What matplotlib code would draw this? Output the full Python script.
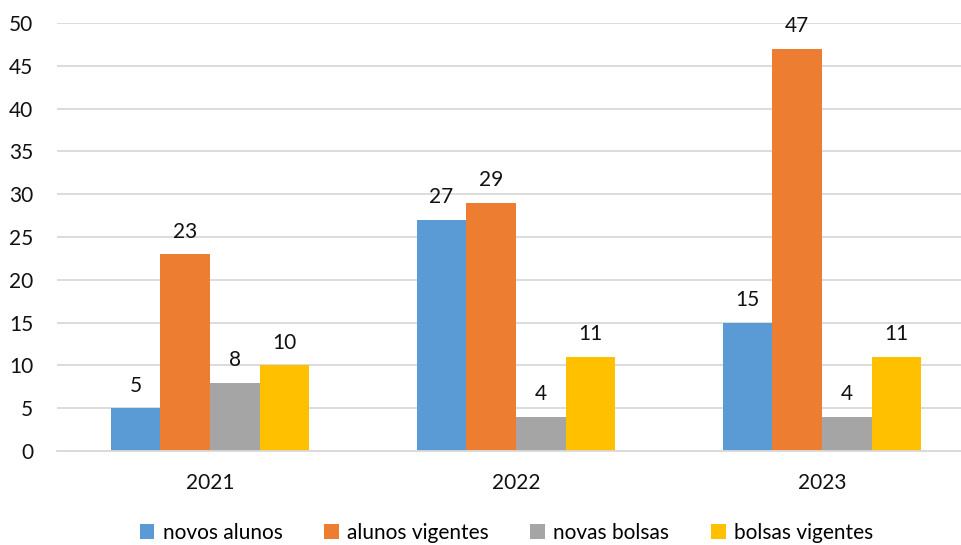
import numpy as np
import matplotlib.pyplot as plt

# dados por ano
anos = ['2021', '2022', '2023']
novos_alunos = [5, 27, 15]
alunos_vigentes = [23, 29, 47]
novas_bolsas = [8, 4, 4]
bolsas_vigentes = [10, 11, 11]

series = [
    ('novos alunos', novos_alunos, '#5B9BD5'),
    ('alunos vigentes', alunos_vigentes, '#ED7D31'),
    ('novas bolsas', novas_bolsas, '#A5A5A5'),
    ('bolsas vigentes', bolsas_vigentes, '#FFC000'),
]

plt.rcParams['font.family'] = ['Lato', 'DejaVu Sans']
fs = 15

fig = plt.figure(figsize=(9.61, 5.45), dpi=100)
ax = fig.add_axes([0.0593, 0.1725, 0.9553, 0.7853])

x = np.arange(len(anos))
w = 0.1625
for i, (nome, vals, cor) in enumerate(series):
    pos = x + (i - 1.5) * w
    barras = ax.bar(pos, vals, w, color=cor, label=nome, zorder=2)
    for b, v in zip(barras, vals):
        ax.annotate(str(v), (b.get_x() + b.get_width() / 2, v),
                    xytext=(0, 9), textcoords='offset points',
                    ha='center', va='bottom', fontsize=fs, color='#111111')

ax.set_xlim(-0.5, 2.5)
ax.set_ylim(0, 50)
ax.set_yticks(range(0, 51, 5))
ax.set_xticks(x)
ax.set_xticklabels(anos)
ax.tick_params(axis='both', length=0, labelsize=fs, colors='#111111')
ax.tick_params(axis='x', pad=16)
ax.tick_params(axis='y', pad=17)
ax.grid(axis='y', color='#D9D9D9', linewidth=1.3, zorder=0)
for s in ['top', 'right', 'left']:
    ax.spines[s].set_visible(False)
ax.spines['bottom'].set_color('#D9D9D9')
ax.spines['bottom'].set_linewidth(1.3)

fig.legend(loc='lower center', bbox_to_anchor=(0.527, -0.03), ncol=4,
           frameon=False, fontsize=fs, handlelength=0.7, handleheight=0.7,
           handletextpad=0.4, columnspacing=2.0)

fig.savefig('out.png', dpi=100)
